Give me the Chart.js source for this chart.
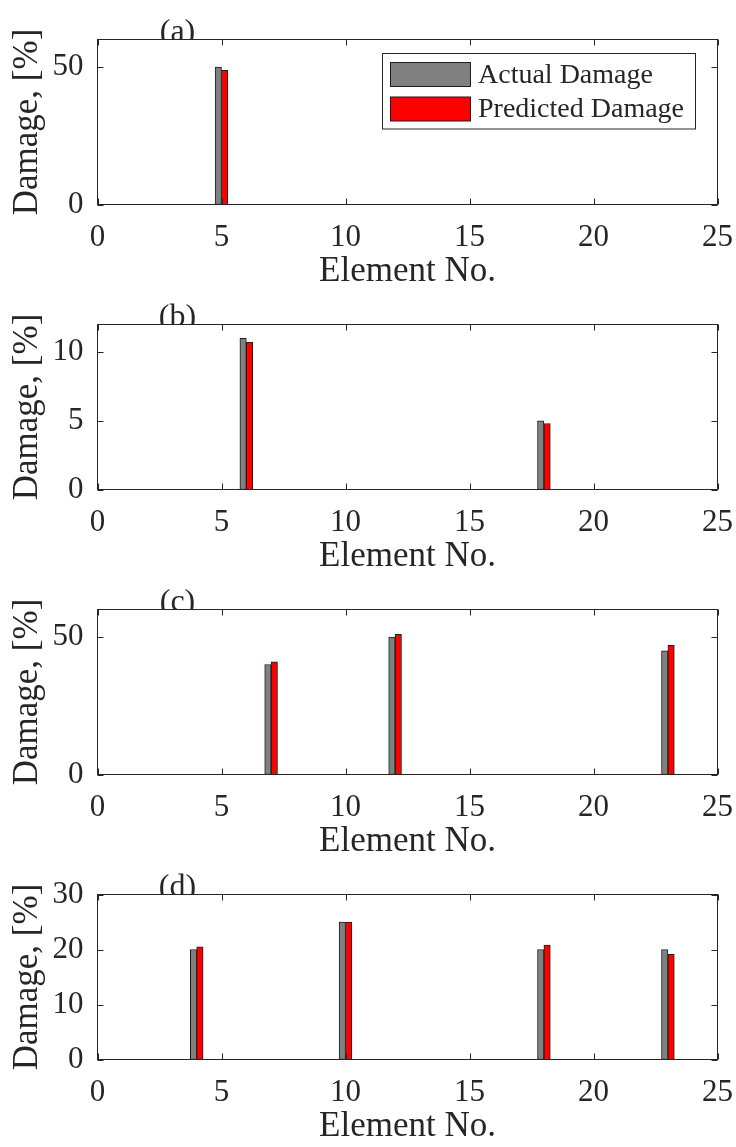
<!DOCTYPE html>
<html>
<head>
<meta charset="utf-8">
<script src="https://cdn.jsdelivr.net/npm/chart.js@4.4.0/dist/chart.umd.min.js"></script>
<style>
  html, body { margin: 0; padding: 0; background: #ffffff; }
  #wrap { position: relative; width: 736px; height: 1147px; overflow: hidden; background: #ffffff; }
  #wrap canvas { position: absolute; left: 0; }
</style>
</head>
<body>
<div id="wrap">
  <canvas id="cA" width="736" height="300" style="top:0px"></canvas>
  <canvas id="cB" width="736" height="300" style="top:285px"></canvas>
  <canvas id="cC" width="736" height="300" style="top:570px"></canvas>
  <canvas id="cD" width="736" height="300" style="top:855px"></canvas>
</div>
<script>
// ---------- data ----------
const seriesNames = ['Actual Damage', 'Predicted Damage'];
const xTicks = [0, 5, 10, 15, 20, 25];
const xLimits = [0, 25];

const elementsA = [5];
const actualA = [50];
const predictedA = [48.8];
const yTicksA = [0, 50];
const yMaxA = 60;

const elementsB = [6, 18];
const actualB = [11, 5];
const predictedB = [10.7, 4.8];
const yTicksB = [0, 5, 10];
const yMaxB = 12;

const elementsC = [7, 12, 23];
const actualC = [40, 50, 45];
const predictedC = [41, 51, 47];
const yTicksC = [0, 50];
const yMaxC = 60;

const elementsD = [4, 10, 18, 23];
const actualD = [20, 25, 20, 20];
const predictedD = [20.5, 25, 20.8, 19.1];
const yTicksD = [0, 10, 20, 30];
const yMaxD = 30;

// ---------- style ----------
const FONT = '"Liberation Serif", "Times New Roman", serif';
const INK = '#262626';
const GRAY = '#808080';
const RED = '#ff0000';
const EDGE = '#1e1e1e';
const TICK_LEN = 6;

const framePlugin = {
  id: 'frame',
  afterDatasetsDraw(chart, args, opts) {
    const ctx = chart.ctx;
    const a = chart.chartArea;
    const x = chart.scales.x, y = chart.scales.y;
    ctx.save();
    ctx.strokeStyle = INK;
    ctx.lineWidth = 1;
    ctx.strokeRect(a.left, a.top, a.right - a.left, a.bottom - a.top);
    ctx.beginPath();
    x.ticks.forEach(t => {
      const px = Math.round(x.getPixelForValue(t.value)) + 0.5;
      ctx.moveTo(px, a.bottom); ctx.lineTo(px, a.bottom - TICK_LEN);
      ctx.moveTo(px, a.top); ctx.lineTo(px, a.top + TICK_LEN);
    });
    y.ticks.forEach(t => {
      const py = Math.round(y.getPixelForValue(t.value)) + 0.5;
      ctx.moveTo(a.left, py); ctx.lineTo(a.left + TICK_LEN, py);
      ctx.moveTo(a.right, py); ctx.lineTo(a.right - TICK_LEN, py);
    });
    ctx.stroke();

    // legend box (drawn from dataset labels / colours)
    if (opts.legend) {
      const bw = 313, bh = 75.5;
      const bx = Math.round(a.right - 22.5 - bw) + 0.5;
      const by = Math.round(a.top + 13.2) + 0.5;
      ctx.fillStyle = '#ffffff';
      ctx.fillRect(bx, by, bw, bh);
      ctx.strokeStyle = INK;
      ctx.strokeRect(bx, by, bw, bh);
      const rowTops = [9, 43.5];
      chart.data.datasets.forEach((ds, i) => {
        const sx = bx + 8, sy = by + rowTops[i];
        ctx.fillStyle = ds.backgroundColor;
        ctx.fillRect(sx, sy, 80, 24);
        ctx.strokeStyle = EDGE;
        ctx.strokeRect(sx, sy, 80, 24);
        ctx.fillStyle = INK;
        ctx.font = '28px ' + FONT;
        ctx.textAlign = 'left';
        ctx.textBaseline = 'middle';
        ctx.fillText(ds.label, bx + 95.5, sy + 13);
      });
    }

    // panel tag, clipped by the axes box
    ctx.beginPath();
    ctx.rect(0, 0, chart.width, a.top);
    ctx.clip();
    ctx.fillStyle = INK;
    ctx.font = '32px ' + FONT;
    ctx.textAlign = 'center';
    ctx.textBaseline = 'alphabetic';
    ctx.fillText(opts.tag, a.left + 80, a.top + 1.5);
    ctx.restore();
  }
};

function makePanel(id, elements, actual, predicted, yTicks, yMax, tag, legend) {
  const ctx = document.getElementById(id).getContext('2d');
  return new Chart(ctx, {
    type: 'bar',
    data: {
      datasets: [
        {
          label: seriesNames[0],
          data: elements.map((e, i) => ({ x: e, y: actual[i] })),
          backgroundColor: GRAY,
          borderColor: EDGE,
          borderWidth: 1,
          borderSkipped: false
        },
        {
          label: seriesNames[1],
          data: elements.map((e, i) => ({ x: e, y: predicted[i] })),
          backgroundColor: RED,
          borderColor: EDGE,
          borderWidth: 1,
          borderSkipped: false
        }
      ]
    },
    options: {
      responsive: false,
      animation: false,
      devicePixelRatio: 1,
      barThickness: 6.4,
      layout: { padding: { top: 39.5, left: 0, right: 18.5, bottom: 0 } },
      plugins: {
        legend: { display: false },
        tooltip: { enabled: false },
        frame: { tag: tag, legend: legend }
      },
      scales: {
        x: {
          type: 'linear',
          min: xLimits[0],
          max: xLimits[1],
          offset: false,
          grid: { display: false, drawTicks: false, offset: false },
          border: { display: false },
          afterBuildTicks: s => { s.ticks = xTicks.map(v => ({ value: v })); },
          afterFit: s => { s.height = 95.5; s.paddingLeft = 0; s.paddingRight = 0; },
          ticks: {
            autoSkip: false, maxRotation: 0, minRotation: 0,
            padding: 15, color: INK,
            font: { family: FONT, size: 31 }
          },
          title: {
            display: true, text: 'Element No.', color: INK,
            font: { family: FONT, size: 35 },
            padding: { top: 0, bottom: 7 }
          }
        },
        y: {
          type: 'linear',
          min: 0,
          max: yMax,
          grid: { display: false, drawTicks: false },
          border: { display: false },
          afterBuildTicks: s => { s.ticks = yTicks.map(v => ({ value: v })); },
          afterFit: s => { s.width = 97.5; s.paddingTop = 0; s.paddingBottom = 0; },
          ticks: {
            padding: 14, color: INK,
            font: { family: FONT, size: 31 }
          },
          title: {
            display: true, text: 'Damage, [%]', color: INK,
            font: { family: FONT, size: 35 },
            padding: { top: 7, bottom: 0 }
          }
        }
      }
    },
    plugins: [framePlugin]
  });
}

makePanel('cA', elementsA, actualA, predictedA, yTicksA, yMaxA, '(a)', true);
makePanel('cB', elementsB, actualB, predictedB, yTicksB, yMaxB, '(b)', false);
makePanel('cC', elementsC, actualC, predictedC, yTicksC, yMaxC, '(c)', false);
makePanel('cD', elementsD, actualD, predictedD, yTicksD, yMaxD, '(d)', false);
</script>
</body>
</html>
